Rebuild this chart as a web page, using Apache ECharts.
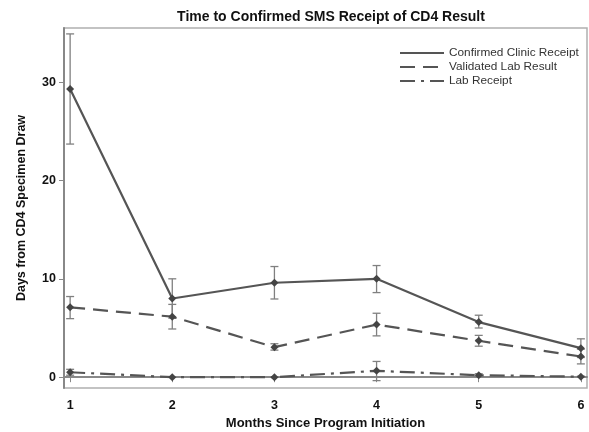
<!DOCTYPE html>
<html>
<head>
<meta charset="utf-8">
<script src="https://cdn.jsdelivr.net/npm/echarts@6/dist/echarts.min.js"></script>
<style>
  html, body { margin: 0; padding: 0; background: #fff; }
  #chart { width: 589px; height: 432px; }
</style>
</head>
<body>
<div id="chart"></div>
<script>
// Months since program initiation
var months = [1, 2, 3, 4, 5, 6];
var monthTicks = [1, 2, 3, 4, 5, 6];
var dayTicks = [0, 10, 20, 30];

// Mean days from CD4 specimen draw, with confidence limits
var clinic = [29.3, 8.0, 9.6, 10.0, 5.6, 2.95];
var clinicLow = [23.7, 6.0, 7.95, 8.6, 5.0, 2.0];
var clinicHigh = [34.9, 10.0, 11.25, 11.35, 6.3, 3.9];

var validated = [7.1, 6.15, 3.05, 5.35, 3.7, 2.1];
var validatedLow = [5.95, 4.9, 2.75, 4.2, 3.15, 1.35];
var validatedHigh = [8.2, 7.4, 3.4, 6.5, 4.25, 2.85];

var lab = [0.5, 0, 0, 0.65, 0.2, 0.05];
var labLow = [0.2, 0, 0, -0.35, 0.05, 0];
var labHigh = [0.8, 0, 0, 1.6, 0.35, 0.1];

var seriesNames = ['Confirmed Clinic Receipt', 'Validated Lab Result', 'Lab Receipt'];

var LINE = '#555555';
var BAR = '#808080';
var TEXT = '#111111';
var FONT = '"Liberation Sans", Arial, sans-serif';

function pairs(ys) {
  return months.map(function (m, i) { return [m, ys[i]]; });
}
function ranges(lo, hi) {
  return months.map(function (m, i) { return [m, lo[i], hi[i]]; });
}

function errorBars(lo, hi) {
  return {
    type: 'custom',
    silent: true,
    z: 1,
    data: ranges(lo, hi),
    encode: { x: 0, y: [1, 2] },
    renderItem: function (params, api) {
      var x = api.value(0);
      var top = api.coord([x, api.value(2)]);
      var bot = api.coord([x, api.value(1)]);
      var hw = 4;
      var style = { stroke: BAR, lineWidth: 1.3, fill: null };
      return {
        type: 'group',
        children: [
          { type: 'line', shape: { x1: top[0], y1: top[1], x2: bot[0], y2: bot[1] }, style: style },
          { type: 'line', shape: { x1: top[0] - hw, y1: top[1], x2: top[0] + hw, y2: top[1] }, style: style },
          { type: 'line', shape: { x1: bot[0] - hw, y1: bot[1], x2: bot[0] + hw, y2: bot[1] }, style: style }
        ]
      };
    }
  };
}

function meanLine(name, ys, dash) {
  return {
    name: name,
    type: 'line',
    z: 3,
    data: pairs(ys),
    symbol: 'diamond',
    symbolSize: 8,
    showSymbol: true,
    itemStyle: { color: '#444444' },
    lineStyle: { color: LINE, width: 2.2, type: dash },
    emphasis: { disabled: true },
    animation: false
  };
}

var chart = echarts.init(document.getElementById('chart'), null, { renderer: 'canvas' });

chart.setOption({
  animation: false,
  backgroundColor: '#ffffff',
  title: {
    text: 'Time to Confirmed SMS Receipt of CD4 Result',
    left: 326,
    textAlign: 'center',
    top: 5,
    textStyle: { fontFamily: FONT, fontSize: 14, fontWeight: 'bold', color: TEXT }
  },
  legend: {
    orient: 'vertical',
    left: 394,
    top: 42,
    itemWidth: 44,
    itemHeight: 12,
    itemGap: 2,
    data: seriesNames,
    itemStyle: { opacity: 0 },
    textStyle: { fontFamily: FONT, fontSize: 11.8, color: '#333333' }
  },
  grid: {
    left: 64,
    right: 2,
    top: 28,
    bottom: 44,
    outerBoundsMode: 'none',
    containLabel: false,
    show: true,
    borderColor: '#b0b0b0',
    borderWidth: 1.5
  },
  xAxis: {
    type: 'value',
    min: 0.94,
    max: 6.06,
    name: 'Months Since Program Initiation',
    nameLocation: 'middle',
    nameGap: 29,
    nameTextStyle: { fontFamily: FONT, fontSize: 13, fontWeight: 'bold', color: TEXT },
    axisLine: { show: true, lineStyle: { color: '#888888', width: 2 } },
    axisTick: { show: true, customValues: monthTicks, length: 5, lineStyle: { color: '#888888', width: 1 } },
    axisLabel: {
      customValues: monthTicks,
      margin: 11,
      fontFamily: FONT, fontSize: 12.5, fontWeight: 'bold', color: TEXT
    },
    splitLine: { show: false }
  },
  yAxis: {
    type: 'value',
    min: -1.1,
    max: 35.5,
    name: 'Days from CD4 Specimen Draw',
    nameLocation: 'middle',
    nameGap: 36,
    nameTextStyle: { fontFamily: FONT, fontSize: 12.5, fontWeight: 'bold', color: TEXT },
    axisLine: { show: true, lineStyle: { color: '#888888', width: 2 } },
    axisTick: { show: true, customValues: dayTicks, length: 5, lineStyle: { color: '#888888', width: 1 } },
    axisLabel: {
      customValues: dayTicks,
      margin: 8,
      fontFamily: FONT, fontSize: 12.5, fontWeight: 'bold', color: TEXT
    },
    splitLine: { show: false }
  },
  series: [
    errorBars(clinicLow, clinicHigh),
    errorBars(validatedLow, validatedHigh),
    errorBars(labLow, labHigh),
    meanLine(seriesNames[0], clinic, 'solid'),
    meanLine(seriesNames[1], validated, [15, 8]),
    meanLine(seriesNames[2], lab, [15, 6, 3, 6])
  ]
});
</script>
</body>
</html>
